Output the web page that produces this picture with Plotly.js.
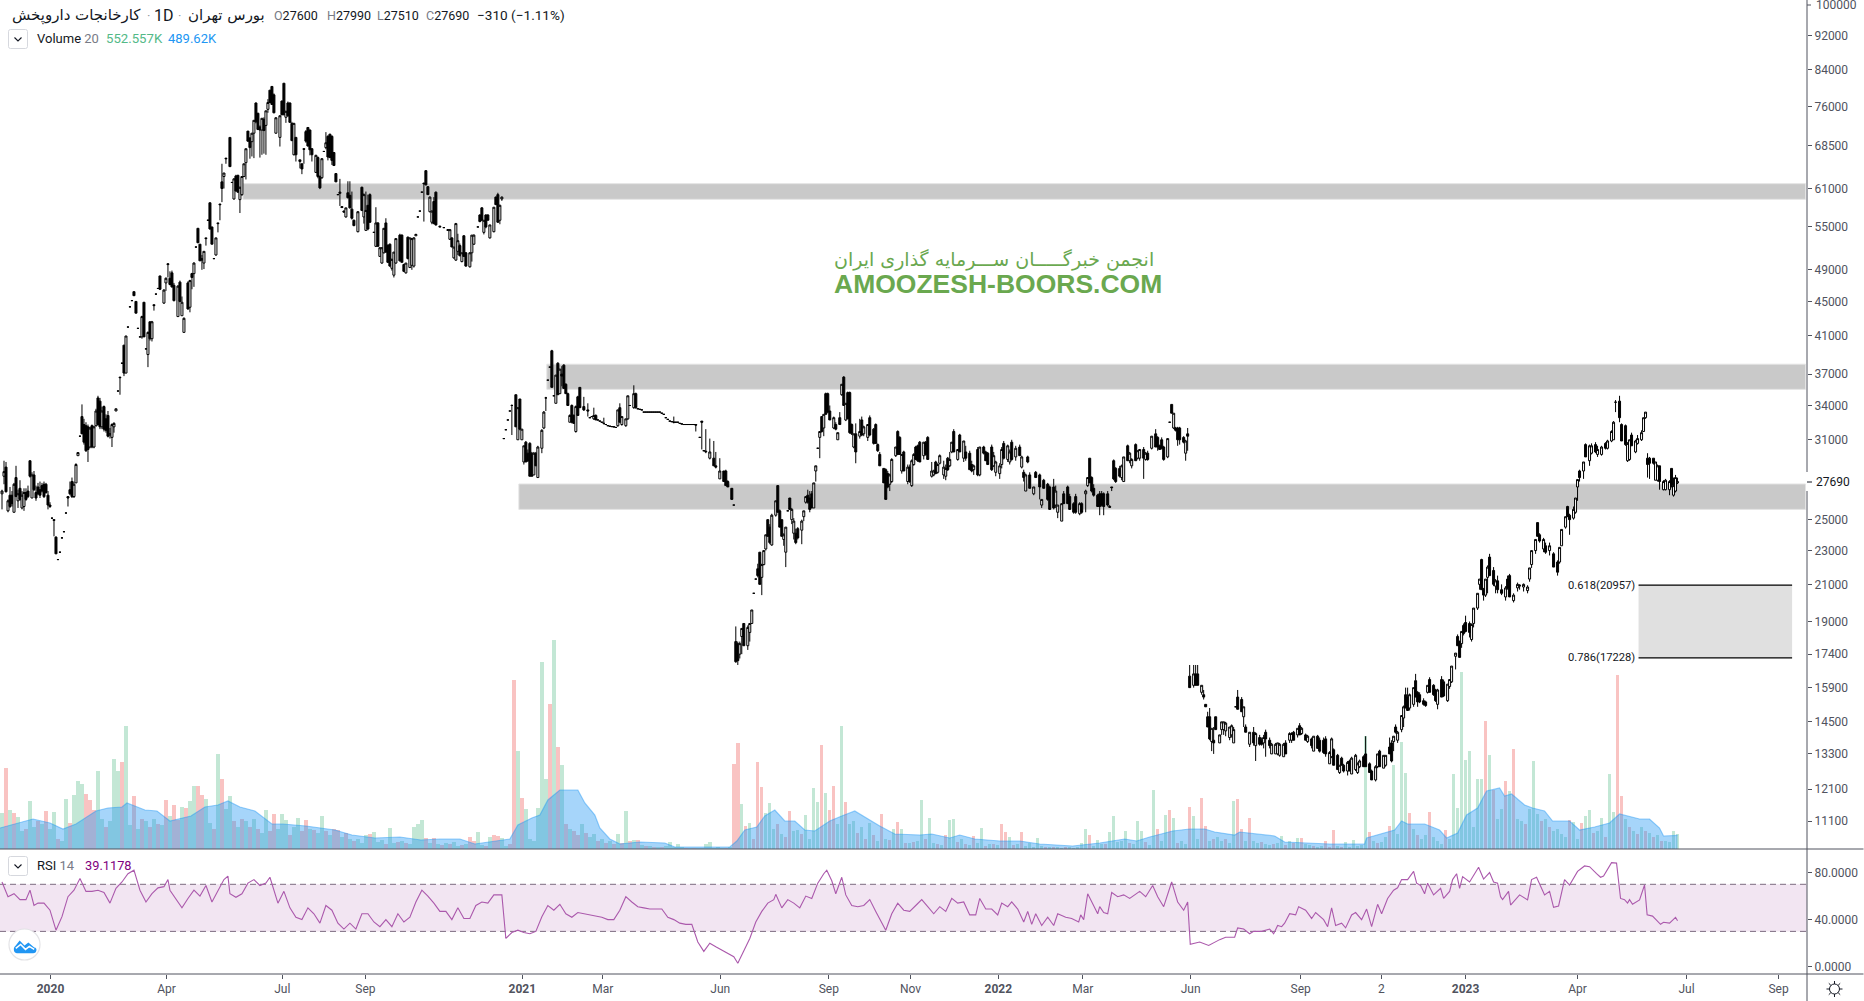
<!DOCTYPE html>
<html><head><meta charset="utf-8">
<script src="https://cdn.plot.ly/plotly-3.0.1.min.js"></script>
<style>html,body{margin:0;padding:0;background:#fff;overflow:hidden}#c{width:1864px;height:1001px}</style>
</head><body><div id="c"></div>
<script>
// candles by leg: [bar number, open, high, low, close]
const leg2020a=[[1,26800,27100,25700,27000],[2,28100,29300,27500,28450],[3,28800,29200,26900,26950],[4,25600,26400,25500,26300],[5,26700,27300,25800,25900],[6,26700,27000,25900,26100],[7,25500,27600,25500,27500],[8,28000,28900,26600,26600],[9,26300,27100,25800,26800],[10,27200,27800,26300,26400],
[11,25800,27000,25700,26700],[12,25900,27200,25600,26900],[13,26900,27200,26300,26400],[14,27000,27400,26500,26600],[15,29300,29300,28000,28100],[16,26500,28400,26500,28200],[17,28200,28500,27000,27100],[18,26900,27400,26300,26500],[19,27300,27600,26700,26800],[20,27100,27700,26500,26700],
[21,27400,27600,26900,27000],[22,27500,27700,26500,26600],[23,27500,27600,26800,26900],[24,26700,27000,25700,26000],[25,26000,26200,25800,25900],[26,25100,25100,25100,25100],[27,25000,25000,23900,24950],[28,23850,23900,22800,22800],[29,22450,22450,22450,22450],[30,22900,22900,22900,22900],
[31,23800,23800,23800,23800],[32,24200,24200,24200,24200],[33,25450,25450,25450,25450],[34,26600,26600,25900,26500],[35,27100,27700,26700,26800],[36,27700,28000,26500,26600],[37,26600,27700,26500,27500],[38,27600,29100,27600,29000],[39,29700,29950,29700,29950],[40,31300,31300,31300,31300],
[41,33000,34100,31500,31500],[42,32300,32800,30600,30800],[43,32200,32500,30000,30100],[44,32100,32300,29200,30200],[45,30400,32100,30300,32000],[46,32200,32300,30300,30400],[47,30400,32200,30300,32100],[48,32200,33700,32100,33500],[49,34700,34900,32200,32300],[50,34400,34700,31900,32100],
[51,32100,33900,31900,33500],[52,33900,34000,31700,31900],[53,32800,33200,31600,31800],[54,33100,33500,31200,31300],[55,31400,32000,31100,31500],[56,31200,32400,30400,32300],[57,32100,32500,31600,32400],[58,33500,33700,33500,33700],[59,35350,35350,35350,35350],[60,36700,36700,35000,36650],
[61,38100,38100,38100,38100],[62,40000,40000,36800,37100],[63,37100,41000,37100,41000],[64,42000,42000,42000,42000],[65,44350,44350,44350,44350],[66,45100,45100,45100,45100],[67,46200,46200,45700,45700],[68,45000,45000,43600,43600],[69,41850,41850,41850,41850],[70,40900,40900,40900,40900],
[71,40900,43300,40700,43200],[72,44900,44900,40900,40900],[73,39600,39600,39600,39600],[74,39000,41500,37700,41400],[75,42600,42600,40500,40700],[76,40700,42700,40400,42600],[77,44600,44600,43900,44500],[78,45900,45900,45900,45900],[79,46600,46600,46600,46600],[80,48200,48200,46400,46500],
[82,44800,46500,44700,46400],[83,47300,48000,46300,47900],[84,49800,49900,48000,49700],[85,47900,48800,47000,47100],[86,48600,48900,46700,46800],[87,47000,47300,45000,45100],[89,43200,47000,43200,46900],[90,47400,47600,44900,45000],[91,43300,45600,43300,44900],[92,41400,43100,41400,43000],
[94,47300,47500,44000,44100],[95,44300,47700,43700,47600],[96,48500,48600,46500,48000],[97,48500,50000,46800,49900],[98,52100,52100,52100,52100],[99,54800,54800,52700,52700],[100,52500,52500,50200,50200],[101,50500,51000,49000,50300],[102,49900,51500,49100,51500],[103,53400,53400,52300,53300],
[104,56000,56000,56000,56000],[105,58700,58700,54600,54700],[106,55000,55000,52500,52500],[107,50500,50500,50500,50500],[108,51000,53400,50900,53400],[109,55600,55600,54200,55500],[110,58500,58500,56000,58400],[111,62100,65200,58800,61000],[112,63000,63600,61000,63600],[113,66200,66200,65200,66100],
[115,70000,70000,64700,64700],[116,62000,62000,62000,62000],[117,59300,62700,59200,62600],[118,63100,63300,60500,60600],[119,63200,63300,60300,60400],[120,59200,61300,57100,61200],[121,60000,63000,59800,63000],[122,63000,65200,62900,65200],[123,65400,67900,62500,67900],[124,71200,71200,69200,69300],
[125,69900,70000,66100,68100],[126,69200,70800,66500,70800],[127,70800,73300,66200,73300],[128,76800,76900,72700,73000],[129,74700,74800,71400,71500],[130,72000,72300,66300,71400],[131,71400,73700,66800,73700],[132,73500,73900,67000,71300],[133,72300,75200,66800,75200],[134,75500,77600,74800,76900],
[135,79500,79500,76800,76900],[136,80300,80400,76400,76500],[137,78500,78800,74700,74800],[138,70800,73900,70700,73800],[140,70000,74300,68300,74200],[141,77200,77300,74300,74400],[142,81000,81000,74300,74400],[143,73900,75200,72800,75100],[144,76800,77100,74000,74200],[145,76800,76900,72800,72900],
[146,72700,73000,69300,69400],[147,66800,72800,66700,72700],[148,70000,70100,65600,66800],[150,65600,65900,64400,65900],[151,65200,65200,63400,64300],[152,67900,67900,65200,67800],[153,71100,71400,69000,69300],[154,71900,71900,68300,68400],[155,71400,71500,66700,67700],[156,67900,68000,65600,66800],
[158,63700,66800,63600,66700],[159,66300,66500,62700,63000],[160,63000,63200,60900,61100],[161,62800,66200,62600,66100],[162,67400,67400,67400,67400],[163,68100,71000,67800,69000],[164,70200,70400,65800,66400],[165,70600,70700,66200,66300],[166,70200,70400,65000,65800],[167,67200,67300,64800,64900],
[168,63500,63600,62100,62100],[169,60000,60000,60000,60000],[170,60200,62600,58200,60400],[171,58100,58100,57900,57950],[172,57400,57500,57200,57250],[173,56500,57900,56400,57900],[174,60300,62200,59400,59500],[175,59900,62200,57800,57900],[176,57700,60500,56100,56300],[177,56000,56100,55100,55200],
[179,54300,57400,54200,57300],[181,61200,61300,57400,57500],[182,56500,60200,55500,60000],[183,54500,60500,54400,57500],[184,58300,60000,54500,54700],[185,60000,60200,55600,55700],[187,54200,54200,54200,54200],[188,52200,58000,52100,55600],[189,55600,55700,52200,52200],[190,50800,52100,50800,52000],
[191,49900,52100,49800,52000],[192,51300,54800,51200,54800],[193,55600,56300,51300,51400],[194,52300,52500,49900,50000],[195,52500,52600,49400,49500],[196,49200,50500,48900,50400],[197,48300,51400,48000,51400],[198,49900,53300,49800,53300],[200,53800,54000,50100,50200],[201,53800,53900,50000,50000],
[202,49700,49800,48700,48800],[203,48600,49900,48500,49900],[204,53500,53600,50400,50500],[205,49300,53400,49300,53400],[206,49600,53400,49000,53300],[207,49500,53500,49300,53400],[208,53700,54000,53700,53900],[209,56500,56500,56500,56500],[210,57400,57400,57400,57400],[211,60400,60400,60400,60400],
[212,61900,61900,55800,61800],[213,64000,64100,61500,61600],[214,61300,61400,60000,60000],[215,57300,59700,57200,59600],[216,55700,57500,55400,57400],[217,58900,59600,55400,55500],[218,60400,60500,55200,55300],[220,55100,55200,55000,55000],[222,54900,54900,54900,54900],[224,54600,54700,54500,54500],
[225,53200,54700,53100,54600],[226,53400,53500,52100,52100],[227,50600,52100,50500,52100],[228,50300,55600,50200,55500],[229,51500,54000,51000,53000],[230,52300,52600,50800,50900],[231,50100,51300,50000,51300],[232,53700,53800,50800,50800],[233,51300,51400,49400,49500],[235,49400,51400,49300,51300],
[236,51300,53800,50100,53800],[237,52500,53900,52400,53800],[239,55000,55000,55000,55000],[240,56800,56900,55700,55800],[241,57900,58000,55900,56000],[242,54200,56000,53900,56000],[243,56800,56900,54800,55000],[244,56800,56900,56000,56000],[245,53400,55300,53300,55300],[247,54300,58000,54200,58000],
[248,59600,59700,58400,58400],[249,60000,60300,55600,55700],[250,56000,58400,55400,58300],[251,59300,59700,59000,59600]];
const leg2021a=[[252,31100,31100,31100,31100],[253,31850,31850,31850,31850],[254,32700,32700,32700,32700],[255,33500,33500,33500,33500],[256,34000,34100,31400,34000],[258,35000,35000,32100,32100],[259,31000,33800,31000,33800],[260,34600,34600,31800,31900],[261,31000,31900,31000,31900],[262,29200,30500,29000,30500],
[263,30800,30900,29200,29200],[264,29900,30200,29200,29300],[265,30700,30800,28100,28100],[266,29900,30000,28100,28100],[267,28200,30000,28200,29900],[268,29900,30000,28900,28900],[269,28000,30500,28000,30400],[271,30300,31900,29900,31800],[272,32000,33500,31900,33400],[273,34700,34800,33500,34700],
[274,36400,36400,36400,36400],[275,37700,37700,37700,37700],[276,39400,39500,35700,35700],[277,34900,34900,34900,34900],[278,34200,36900,34200,36900],[279,38100,38200,35000,35000],[280,35100,37500,35100,37500],[281,37000,37800,35800,36800],[282,37900,38000,35600,35600],[283,36000,36100,35100,35100],
[284,35100,35200,34000,34000],[285,32500,33200,32500,33100],[286,34000,34100,32400,32500],[287,33100,33200,32400,32400],[288,31700,34000,31600,33900],[289,34800,34900,33100,33100],[290,35700,35700,33800,33800],[292,33900,34800,33500,33600],[294,33600,34200,33000,33500],[295,32900,32900,32900,32900],
[296,33000,33000,33000,33000],[297,32800,33800,32700,33100],[298,33100,33200,32700,32700],[299,32700,32700,32700,32700],[300,32600,32600,32600,32600],[301,32500,32500,32500,32500],[302,32400,32900,32300,32400],[303,32300,32300,32300,32300],[304,32200,32200,32200,32200],[305,32150,32150,32150,32150],[306,32120,32120,32120,32120],[307,32100,32100,32100,32100],[308,32050,32050,32050,32050],[309,32200,33600,32100,33600],
[310,33800,34200,32500,32500],[311,32300,33000,32200,33000],[313,32200,32800,32100,32800],[314,32800,34900,32700,34900],[315,34000,34000,34000,34000],[317,33800,35900,33700,35100],[318,35100,35200,33700,33800],[319,33700,33700,33700,33700],[320,33650,33650,33650,33650],[321,33600,33600,33600,33600],[322,33400,33400,33400,33400],[323,33400,33400,33400,33400],
[324,33400,33400,33400,33400],[325,33400,33400,33400,33400],[326,33400,33400,33400,33400],[327,33400,33400,33400,33400],[328,33400,33400,33400,33400],[329,33400,33400,33400,33400],[330,33400,33400,33400,33400],[331,33300,33300,33300,33300],[332,33200,33200,33200,33200],[333,32900,32900,32900,32900],[334,32750,32750,32750,32750],[335,32600,32600,32600,32600],[336,32550,32550,32550,32550],[337,32500,33000,32400,32500],[338,32500,32500,32500,32500],[339,32500,32500,32500,32500],[340,32400,32400,32400,32400],
[341,32350,32350,32350,32350],[342,32300,32300,32300,32300],[343,32300,32300,32300,32300],[344,32300,32300,32300,32300],[345,32300,32300,32300,32300],[346,32300,32300,32300,32300],[347,32300,32300,32300,32300],[348,32300,32300,31700,32250],[350,31200,31200,31200,31200],[351,32600,32600,30200,32500],[352,30100,30100,30100,30100],[353,30000,31900,29900,30050],[355,29500,31100,29400,30000],
[357,29500,30900,28900,28900],[358,28900,30000,28700,28800],[360,27900,29500,27900,28500],[362,28500,28500,27700,27700],[363,28500,28600,27400,27400],[364,27700,27800,27300,27300],[366,27200,27200,26400,26400],[367,26000,26000,26000,26000]];
const leg2021b=[[368,18000,18750,17000,17050],[369,17900,18000,16900,17100],[370,17400,18000,17200,17900],[371,18250,18650,17400,18650],[372,18900,18900,17800,17800],[374,17800,18800,17600,18700],[375,18450,18900,18000,18900],[376,18900,19600,18900,19600],[377,20500,20500,20500,20500],[378,21300,21300,21300,21300],
[379,21900,22200,21400,21500],[380,22900,22900,21000,21000],[381,21400,22200,20400,22150],[382,22150,23000,22100,23000],[383,23100,24000,23000,24000],[384,25000,25000,23900,23900],[385,24500,24700,23400,23500],[386,23350,25400,23300,25300],[388,25300,26300,25200,26300],[389,27400,27400,25500,25500],
[390,25600,25700,24500,24500],[391,25000,25000,23900,23900],[392,23700,24100,23300,24000],[393,22900,24500,22000,24500],[394,25600,25600,25600,25600],[395,26500,26500,25700,25700],[396,25000,25800,24700,25700],[397,24100,25100,23700,24900],[398,24100,24400,23400,23500],[399,24400,24500,23700,23800],
[401,24300,25000,23400,24900],[402,25200,25600,24900,25600],[403,26200,26600,26100,26600],[404,26700,27100,26100,26200],[405,26500,27000,25500,25700],[406,26800,27000,25800,25800],[407,25800,27600,25800,27600],[408,28500,28900,27700,28900],[409,30300,30300,30300,30300],[410,31200,31700,29500,31700],
[411,33000,33000,31600,31700],[412,32000,33200,31300,33200],[413,35100,35200,33200,33200],[414,35100,35200,33300,33400],[415,33500,34000,32700,32700],[417,32000,33000,31900,32900],[418,32300,32500,31800,31900],[419,31000,31600,31000,31600],[420,32900,33400,32300,32300],[421,35000,36000,34900,36000],
[422,36700,36800,34000,34000],[423,32700,34200,32600,34200],[424,35200,35300,32800,32800],[425,35200,35300,31500,31600],[426,32300,32400,31400,31500],[427,30400,31500,30300,31500],[428,31500,32400,29100,30000],[430,31300,32800,31100,31700],[431,32700,33000,31300,31400],[432,31500,32200,31300,32100],
[434,31200,32300,30900,32300],[435,32900,33100,31300,31400],[437,31900,32000,30600,30700],[438,32300,32400,30700,30700],[439,30600,30700,30000,30100],[440,29800,30000,28900,28900],[442,28700,28700,27600,27600],[443,28600,28700,26400,26400],[444,28300,28500,27200,27300],[445,27500,28300,27000,28200],
[446,27700,29500,27600,29400],[448,29700,30400,29600,30400],[449,31700,31800,29800,29800],[450,31200,31300,29800,29800],[451,28500,29800,28300,29800],[452,30000,30100,28500,28500],[454,27700,29000,27500,28800],[455,28800,29000,27600,27700],[456,27400,29400,27300,29300],[457,29000,29900,28900,29800],
[458,30400,30500,29400,29400],[459,30500,30600,29200,29300],[460,30800,30900,29200,29200],[462,29700,30800,29400,30800],[463,30800,30900,29700,29800],[464,31200,31300,29400,29400],[466,28100,29200,28000,28500],[467,28200,28600,28100,28500],[468,29200,29300,28300,28300],[469,28400,29100,28300,29000],
[470,29100,29800,29000,29700],[472,28200,29300,27900,28800],[473,28100,29000,27800,28700],[474,29500,29600,28500,28600],[475,28900,30000,28800,29400],[476,30000,30800,29900,30800],[477,31700,31900,30000,30000],[479,29400,30200,29300,30200],[480,31400,31500,30000,30000],[482,29500,30900,29200,30900],
[483,30000,30500,29300,29500],[485,29900,30100,28600,28600],[486,29000,29300,28400,28500],[487,28600,29000,28200,28900],[489,30200,30400,28100,28200],[490,28200,30400,28100,30400],[492,30400,30500,29800,29900],[493,30000,30100,29300,29300],[494,29900,30000,29000,29000],[496,30400,30600,28500,28600],
[497,28900,30000,28800,29700],[498,28400,29300,28100,29200],[500,28300,29100,27900,28900]];
const leg2022a=[[501,29000,30400,28700,30200],[502,30700,30900,29400,29500],[504,29400,30600,29200,30500],[505,29200,30200,29000,30000],[506,30800,31000,29300,29400],[508,29600,30500,29300,30300],[510,30400,30600,29700,29700],[511,28800,29700,28700,29600],[512,28400,28600,27700,28000],[513,27000,28300,27000,28200],
[514,29600,29700,29100,29200],[515,28200,28400,27200,27200],[517,26800,27300,26700,27300],[518,28400,28500,28000,28000],[520,28200,28300,26400,27300],[521,26000,26400,25800,26400],[522,27800,27900,27200,27200],[524,27500,27600,26300,26400],[525,27300,27400,25700,25700],[527,27300,27900,25700,25800],
[528,26000,27400,25800,27000],[529,25500,26000,25100,26000],[531,24900,26100,24900,26100],[532,26800,27000,26100,26100],[534,27300,27400,26100,26100],[535,26600,26800,25700,25700],[537,26100,26200,25400,25500],[538,26600,26800,25400,25500],[540,25400,26200,25300,26100],[541,26100,26200,25400,25500],
[543,26800,27100,25500,27000],[544,27400,28000,27300,28000],[545,29500,29500,27600,27600],[546,28000,28100,26900,27000],[547,27200,27500,26600,26700],[549,26700,26800,25900,25900],[550,26800,27000,25300,25900],[551,26800,27000,25900,26000],[552,26800,26900,25300,25900],[554,26800,27000,25900,26000],
[555,25900,26000,25800,25850],[556,27300,27300,27000,27250],[557,29300,29400,27800,27900],[558,28700,28800,27600,27700],[560,28700,28900,28000,28100],[561,28000,29000,27800,28900],[562,27700,29600,27700,29600],[564,30500,30600,29300,29300],[565,29300,30000,29100,29900],[566,28900,29500,28700,29400],
[568,30600,30700,29300,29300],[569,29500,30100,29400,30100],[570,29500,30200,29300,30200],[572,30200,30400,27900,29500],[573,29400,30000,29300,29900],[574,29900,30100,29300,29400],[576,30300,31300,30200,31300],[578,31500,31900,30400,30400],[579,31200,31300,30100,30400],[580,30500,30600,30200,30200],
[581,31000,31200,30200,30300],[582,30400,30500,29300,29400],[584,29600,31100,29500,31100],[585,32500,32500,32500,32500],[586,34100,34100,33300,33300],[587,32000,33300,31900,33300],[588,32000,32100,31700,31800],[589,32000,32100,30500,31000],[590,32000,32100,30600,31000],[592,31200,31300,30700,30800],
[593,29900,31000,29300,30900],[594,31500,32000,30100,31300]];
const leg2022b=[[595,16400,16900,15900,15900],[597,16000,16900,15900,16500],[598,16500,16900,16000,16000],[599,16500,16900,16000,16000],[601,15700,16000,15600,16000],[602,15600,15800,15400,15500],[603,15200,15200,15100,15100],[604,14700,14900,14300,14300],[605,14700,15050,13800,13850],[606,13750,14250,13400,14250],
[607,13800,14300,13300,13700],[608,14700,14700,14200,14200],[610,13700,14000,13700,14000],[611,14200,14500,14000,14500],[612,14200,14500,14000,14500],[613,14150,14500,13950,14450],[615,13900,14300,13800,14300],[616,14000,14400,13900,14350],[617,13700,14300,13700,14200],[618,15100,15100,15100,15100],
[619,15500,15800,15000,15000],[621,15400,15500,14900,14900],[622,14700,15100,14300,15100],[623,14300,14400,14100,14100],[625,13650,14100,13550,14100],[627,14100,14300,13600,13700],[628,13600,14100,13050,14050],[630,13900,14000,13600,13650],[631,13800,13900,13600,13650],[632,13700,14000,13500,13900],
[633,14100,14200,13200,13850],[635,13800,13900,13500,13600],[636,13300,13700,13300,13650],[638,13300,13700,13300,13650],[639,13300,13700,13250,13700],[640,13250,13700,13200,13650],[642,13200,13700,13200,13650],[643,13700,13800,13300,13300],[645,13800,14100,13700,14050],[646,13800,14100,13700,14050],
[647,14100,14150,13800,13800],[649,14000,14250,13900,14250],[650,14350,14450,14000,14000],[651,14050,14300,14000,14250],[653,14000,14050,13800,13800],[654,13750,14000,13700,13950],[656,13850,13900,13500,13600],[657,13400,13950,13400,13950],[659,13950,14000,13500,13500],[660,13800,13900,13350,13400],
[662,13800,13900,13300,13350],[663,13850,13950,13200,13300],[665,12950,13400,12950,13350],[666,13200,13900,13150,13850],[667,13450,13500,12900,12900],[669,13250,13300,12750,12750],[670,12650,12900,12600,12900],[671,13150,13200,12900,12900],[672,12900,12950,12650,12700],[674,12700,13050,12550,13000],
[675,13050,13100,12700,12700],[676,12600,13200,12600,13150],[678,12750,13300,12700,13250],[679,12650,13000,12600,12950],[680,12850,13100,12800,13050],[682,13200,13250,12850,12850],[683,13300,13950,12850,12850],[685,12950,13000,12650,12650],[686,12700,12750,12400,12400],[688,12400,12900,12350,12850],
[689,12850,13300,12800,13300],[690,13400,13450,12850,12850],[692,12800,13250,12800,13250],[693,12900,13250,12850,13250]];
const leg2023=[[695,13550,13900,13300,13300],[696,13700,13800,13000,13050],[697,13750,13950,13400,13950],[698,14300,14400,14050,14100],[699,13800,14150,13700,14100],[701,14200,14750,14100,14750],[702,14650,15150,14300,15100],[703,15600,15900,15050,15050],[704,15500,15900,14950,14950],[705,15050,15650,14950,15600],
[707,15200,15900,15100,15900],[708,16200,16500,15500,15500],[709,15700,15750,15100,15300],[710,15600,15700,15250,15300],[712,15350,15450,15150,15200],[713,15300,15350,15100,15150],[714,15700,16000,15650,16000],[715,16250,16350,15700,15700],[717,16000,16050,15550,15600],[718,15800,15850,15300,15350],
[719,15200,15850,15000,15800],[721,16250,16400,15500,15500],[722,16150,16250,15500,15550],[724,15350,16050,15300,16050],[725,15950,16250,15850,16250],[726,16150,16850,16100,16850],[728,17300,17450,16700,17450],[729,18250,18350,17800,17800],[730,18000,18050,17250,17250],[731,17900,18500,17700,18500],
[732,18800,18900,18300,18400],[733,18950,19300,18450,18500],[735,18900,19000,18200,18450],[736,18100,18900,18000,18850],[737,18900,19700,18700,19700],[739,19700,20500,19600,20500],[740,21000,21300,20700,21300],[741,22450,22500,20700,20700],[742,20700,20800,20100,20400],[743,20400,21300,20300,21300],
[744,21400,22100,20500,22000],[745,22600,22800,21500,21500],[747,21800,22000,20900,21000],[748,20900,21300,20500,21200],[749,21200,21500,20500,20700],[751,20700,21000,20400,20500],[753,20300,20900,20100,20800],[754,21300,21500,20700,20800],[755,21500,21600,20300,20300],[757,20100,20500,20000,20400],
[759,20800,21100,20600,21000],[760,20900,21000,20700,20950],[762,20850,21050,20600,21000],[764,20650,20950,20500,20850],[765,21300,21950,21150,21950],[766,22150,23000,21950,23000],[768,23000,23700,22800,23700],[769,24800,24800,23900,23900],[770,24000,24100,23500,23600],[772,23100,23800,22900,23700],
[773,23300,23500,22800,22900],[775,23000,23500,22700,23300],[777,22800,22900,22000,22000],[779,22300,22400,21500,21700],[780,22300,23200,22200,23200],[781,23300,24350,23300,24350],[783,24500,25200,24400,25200],[784,25900,25950,25200,25200],[785,25300,25400,24000,25000],[787,25100,25900,25000,25700],
[788,25500,26500,25400,26500],[789,27300,27850,26300,27850],[790,28500,28600,27700,28000],[792,28500,29200,27900,29200],[793,30600,30700,29600,29600],[795,29300,30600,28900,30500],[796,29900,30700,29800,30500],[798,30600,30800,29900,30000],[799,29800,30500,29600,30200],[801,29800,30500,29700,30400],
[803,30700,30800,30200,30300],[804,30300,31000,30200,30900],[806,30900,31800,30800,31700],[807,31000,32600,31000,32500],[808,34300,34500,33400,34300],[810,34400,34900,32500,32900],[811,32300,32400,30900,30900],[813,32200,32300,30500,30600],[814,29300,30800,29200,30700],[815,29400,31000,29300,31000],
[816,31400,31600,30500,30500],[818,30000,31000,29900,30900],[819,30700,31400,30600,31100],[821,31000,31800,30900,31600],[822,31700,32900,31700,32900],[823,32900,33400,32800,33400],[824,29500,29900,28000,29000],[825,29500,29600,27900,29100],[827,29500,29500,29000,29100],[828,27800,29200,27800,29200],
[829,27800,29000,27700,28900],[830,28900,28900,27100,27700],[832,27100,27800,27050,27700],[833,27100,27900,27050,27800],[835,27100,27800,26700,27700],[836,28700,28700,27300,27300],[837,26700,28000,26600,27400],[838,27000,28200,26900,28000],[839,27600,27990,27510,27690]];

// volume in thousands, one value per two bars; negative = down day
const volumeSigned=[1300,-2920,1400,-1300,1150,650,-720,1730,790,-1000,
900,-1370,720,1330,-360,290,1800,-940,1940,2450,
2340,-1980,-1760,-1400,2810,1080,-790,1010,3240,2810,
-3130,4430,860,-1910,720,-1080,1010,-790,1080,-900,
860,-1760,1190,-1580,-1040,1510,-1480,1730,2270,-2270,
-1940,1800,940,-720,3420,-2520,1440,1910,-1010,790,
-1080,1010,-790,1080,-720,580,1400,-650,-1260,720,
1260,1040,-500,790,1120,-650,-1040,720,-680,580,
1190,-650,500,-720,-680,430,-580,360,-290,360,
220,500,-540,610,250,320,-180,760,220,-250,
290,-220,180,790,900,1040,-400,220,-400,180,
-140,220,-180,250,110,-140,180,-430,-290,610,
140,-110,430,-500,-470,400,110,-180,-6080,3530,
-1840,1440,360,290,1480,6730,2520,-5220,7520,-3670,
3020,-900,720,-650,-500,900,-580,430,540,-290,
360,-220,290,-180,540,-220,1370,-290,320,-320,
140,-110,110,-70,70,-70,110,250,70,180,
70,-40,40,-40,40,40,180,250,40,70,
40,-40,70,-3060,-3820,1620,-830,940,-360,-3130,
-2230,1300,1660,720,-900,540,-430,-1370,650,680,
-540,1220,360,2200,1690,-3740,2020,-1400,-2270,900,
4430,-1690,900,1010,-580,790,-360,940,-500,290,
-1260,360,-320,720,-970,720,-220,220,-250,290,
1760,-360,1120,220,-180,140,-500,1040,1080,-250,
360,-180,140,-470,220,760,-110,180,-180,140,
-900,-610,430,-140,180,-610,110,220,70,400,
110,-70,70,-70,70,40,-70,70,40,70,
220,720,-500,110,320,180,-180,610,1190,250,
290,650,-220,180,1010,650,-250,140,2120,-720,
290,1220,-1400,1120,-220,290,180,-1510,1190,360,
-1840,-830,290,-360,430,290,-360,220,1730,-1800,
-720,290,-1120,290,220,-250,180,140,-180,220,
470,-140,290,-220,400,-400,180,140,-110,70,
110,-290,-70,-680,110,-70,250,70,320,110,
140,4070,-610,290,-220,250,430,-830,3020,540,
3850,2740,-1300,720,-500,360,500,-1330,430,290,
180,-680,360,2700,1480,6370,3200,3530,790,2520,
2520,-4610,3380,-2120,1080,1440,-2450,2090,-3600,1080,
1010,-900,1440,3170,1260,-1010,1080,-790,650,720,
540,430,-1040,970,360,-940,1190,1400,-580,650,
1120,-430,2700,1330,-6260,-1910,1080,-790,650,-540,
790,-650,580,-430,500,-290,290,250,650,553];

// 20-bar volume average: [bar, thousands]
const volumeAverage=[[0,756],[10,936],[16.5,1080],[25,936],[31.5,720],[38,900],[48,1368],[54,1476],[61,1512],[63.5,1656],[72.5,1404],[78.5,1368],[85,1008],[95.5,1188],[102.5,1512],[109,1584],[114,1728],[120,1512],[127.5,1368],[136,900],[141.5,900],[153,828],[167.5,684],[176,504],[187.5,396],[200,432],[210.5,324],[220,360],[230,360],[237.5,180],[247.5,288],[250,324],[255,360],[259,864],[266,1116],[270,1224],[274,1764],[280,2124],[289,2124],[292.5,1656],[297.5,1224],[300,756],[305,360],[310,180],[320,252],[332.5,216],[337.5,72],[350,72],[365,72],[368.5,288],[372.5,684],[378.5,792],[382.5,1188],[387.5,1404],[392.5,1008],[397.5,1008],[402.5,684],[407.5,648],[415,1008],[421,1188],[427.5,1368],[435,1044],[440,828],[447.5,540],[460,504],[466,540],[475,396],[480,504],[487.5,360],[500,288],[510,288],[520,180],[536.5,108],[550,216],[562.5,360],[568.5,288],[575,432],[586.5,648],[595,720],[602.5,720],[607.5,612],[617.5,504],[620,612],[637.5,468],[642.5,252],[665,180],[682.5,180],[683.5,396],[697.5,684],[701,1008],[704,900],[712.5,900],[720,684],[723.5,396],[729,576],[733.5,1224],[739,1476],[743.5,2088],[750,2196],[752.5,1908],[756,1980],[762.5,1584],[766.5,1476],[772.5,1368],[776.5,1008],[785,1008],[790,684],[797.5,792],[805,936],[810,1260],[820,1080],[825,1080],[830,756],[832,468],[839,490]];

// RSI by leg: [bar, value]
const rsi2020=[[1,72],[4,59.5],[7,62],[10,57],[13,57],[15,65],[17,52],[19,54],[22,54],[25,48],[28,31],[31,42.5],[34,59.5],[37,65],[40,75],[43,64],[46,64],[49,65],[52,63],[55,54],[58,66.6],[61,72],[64,79],[67,82],[70,65],[73,55],[76,62],[79,67],[82,68],[84,74],[85,65],[88,57],[91,50],[94,58],[97,65],[100,60],[103,69],[106,55],[109,65],[112,74],[114,77],[115,62],[118,59],[121,62],[124,71],[127,74],[130,69],[133,71],[135,76],[136,71],[139,54],[142,64],[145,50],[148,42],[151,40],[154,50],[157,45],[160,37],[163,52],[166,48],[169,37],[172,32],[175,37],[178,32],[181,45],[184,45],[187,38],[190,34],[193,40],[196,34],[199,45],[202,38],[205,42],[208,55],[211,65],[214,60],[217,54],[220,47],[223,47],[226,40],[229,50],[232,41],[235,41],[238,52],[241,55],[244,54],[247,61],[250,61],[251,61],[253,24]];
const rsi2021=[[256,29],[259,31],[262,29],[265,28],[268,30],[271,42.5],[274,52],[277,48],[280,53],[283,45],[286,42],[289,46],[292,45],[295,44],[298,43],[301,42],[304,40],[307,40],[310,48],[313,59.5],[316,55],[319,51],[322,50],[325,49],[328,49],[331,49],[334,42],[337,40],[340,37],[343,36],[346,36],[349,21],[352,13],[355,20],[358,17],[361,14],[364,11],[367,8.5],[369,3],[372,14],[375,24],[378,38],[381,47],[384,54],[387,57],[388,61.5],[391,50],[394,57],[397,54],[400,50],[403,60],[406,58],[409,71],[412,79],[413.5,82],[416,73],[418,62],[421,76],[423,61],[426,52],[429,51],[432,52],[435,57],[438,47],[441,38],[443,31],[446,45],[449,54],[452,48],[455,47],[458,52],[461,57],[464,51],[467,45],[470,51],[473,47],[476,58],[479,54],[482,55],[485,44],[488,44],[490,58],[493,49],[496,49],[499,44]];
const rsi2022=[[501,54],[504,51],[506,55],[509,49],[512,38],[514,47],[516,36],[518,45],[521,35],[524,42],[527,35],[529,45],[533,42],[536,41],[539.5,38],[540.5,44],[542,40],[544,62],[547,52],[549,45],[550,51],[552,46],[554,45],[556,63],[559,59.5],[562,61],[565,58],[570,64],[573,59.5],[576.5,69],[579,59.5],[582,51],[586,72],[589,55],[592,48],[594,55],[595.3,19],[600,21],[604.5,18],[610,23],[613,25],[617.5,25],[619,33],[622,32],[625,28],[627,30],[631,30],[635,32],[637,28],[639,35],[641,34],[642.5,37],[645,45],[648,44],[649.5,51],[653,48],[656,41],[658,46],[662,40],[664,34],[666,50],[668,35],[671,37],[673,33],[676,44],[678,46],[681,40],[683.5,49],[686,34],[689,53],[691,45],[694,58],[697,65],[699,67]];
const rsi2023=[[701,74],[704,74],[707,81],[708.5,71],[710.5,69],[712.5,62],[714,71],[717,61],[720.5,66.6],[722,58],[725,64],[726.5,74],[728.5,79],[730,66.6],[731.5,76.5],[735,72],[739.5,84.5],[742,74.5],[745,80],[747,72],[749,71],[750.5,59.5],[751.5,57],[754.5,64],[755.5,52.4],[760,61],[764,56.7],[766,74],[768.5,76],[772.5,61],[775,64],[777,50.4],[779.5,51.6],[782.5,74],[785,69.4],[789,81],[792.5,85.6],[795,85],[798.5,79],[800.5,76],[802,77],[806,88.4],[808.5,88],[809.8,71],[810.5,58],[812.5,57],[814,54],[815,57],[816.5,53],[820,56.7],[822.5,69.4],[823.8,44],[826.5,43],[830.5,36],[832,37.7],[835,37],[838,42],[839,39.1]];

const priceTicks=[92000,84000,76000,68500,61000,55000,49000,45000,41000,37000,34000,31000,25000,23000,21000,19000,17400,15900,14500,13300,12100,11100];
const topPriceTick=100000;
const rsiTicks=[0,40,80];
const timeTickBars=[25.25,83.25,141.2,182.75,261.2,301.5,360.25,414.5,455.4,499.3,541.5,595.5,650.5,690.9,733,789,843.5,889.5];
const timeTickLabels=['<b>2020</b>','Apr','Jul','Sep','<b>2021</b>','Mar','Jun','Sep','Nov','<b>2022</b>','Mar','Jun','Sep','2','<b>2023</b>','Apr','Jul','Sep'];

const zoneStartBars=[121.5,273.5,259.5];
const zoneTops=[61800,38000,27520];
const zoneBottoms=[59250,35510,25700];
const fibLevels=[20957,17228];
const fibLabels=['0.618(20957)','0.786(17228)'];
const lastPrice=27690;

// ---- page geometry
const W=1864,H=1001,PW=1807.5,PH=974,PANE=849,END_BAR=PW/2;
const px=x=>x/PW, py=y=>(PH-y)/PH, split=(PH-PANE)/PH;
const GREY='#50535e',DARK='#131722',FONT='Roboto, Arial, sans-serif',FA='"DejaVu Sans", sans-serif';

const rows=[...leg2020a,...leg2021a,...leg2021b,...leg2022a,...leg2022b,...leg2023];
const rsiRows=[...rsi2020,...rsi2021,...rsi2022,...rsi2023];
const candle={type:'candlestick',xaxis:'x',yaxis:'y2',x:rows.map(r=>r[0]),open:rows.map(r=>r[1]),high:rows.map(r=>r[2]),low:rows.map(r=>r[3]),close:rows.map(r=>r[4]),
 whiskerwidth:0,hoverinfo:'skip',showlegend:false,
 increasing:{line:{color:'#000',width:1},fillcolor:'#fff'},decreasing:{line:{color:'#000',width:1},fillcolor:'#000'}};
const vol={type:'bar',xaxis:'x',yaxis:'y',x:volumeSigned.map((v,i)=>1+2*i),y:volumeSigned.map(Math.abs),width:1.7,
 marker:{color:volumeSigned.map(v=>v>=0?'rgba(83,185,135,0.35)':'rgba(239,83,80,0.35)'),line:{width:0}},hoverinfo:'skip',showlegend:false};
const ma={type:'scatter',mode:'lines',xaxis:'x',yaxis:'y',x:volumeAverage.map(r=>r[0]),y:volumeAverage.map(r=>r[1]),fill:'tozeroy',fillcolor:'rgba(33,150,243,0.4)',line:{color:'rgba(33,150,243,0.45)',width:1.2},hoverinfo:'skip',showlegend:false};
const rsi={type:'scatter',mode:'lines',xaxis:'x',yaxis:'y3',x:rsiRows.map(r=>r[0]),y:rsiRows.map(r=>r[1]),line:{color:'#ab59ac',width:1.1},hoverinfo:'skip',showlegend:false};

const line=(x0,y0,x1,y1,c=GREY,w=1)=>({type:'line',xref:'paper',yref:'paper',x0:px(x0),x1:px(x1),y0:py(y0),y1:py(y1),line:{color:c,width:w},layer:'above'});
const shapes=[];
zoneStartBars.forEach((b,i)=>shapes.push({type:'rect',xref:'x',yref:'y2',x0:b,x1:903,y0:zoneBottoms[i],y1:zoneTops[i],fillcolor:'#c9c9c9',line:{color:'#e4e4e4',width:1},layer:'below'}));
shapes.push({type:'rect',xref:'x',yref:'y2',x0:819.5,x1:896.3,y0:fibLevels[1],y1:fibLevels[0],fillcolor:'#e0e0e0',line:{width:0},layer:'below'});
fibLevels.forEach(l=>shapes.push({type:'line',xref:'x',yref:'y2',x0:819.5,x1:896.3,y0:l,y1:l,line:{color:'#000',width:1.2},layer:'above'}));
shapes.push({type:'rect',xref:'paper',yref:'y3',x0:0,x1:1,y0:30,y1:70,fillcolor:'rgba(128,0,128,0.1)',line:{width:0},layer:'below'});
[30,70].forEach(l=>shapes.push({type:'line',xref:'paper',yref:'y3',x0:0,x1:1,y0:l,y1:l,line:{color:'#7c6c80',width:1,dash:'6px,4px'},layer:'below'}));
shapes.push(line(0,PANE,W,PANE),line(0,PH,W,PH),line(PW,0,PW,472),line(PW,491,PW,H),line(PW,482,PW+5,482,DARK),line(PW,5,PW+4,5));

const T=(x,y,text,o={})=>({xref:'paper',yref:'paper',x:px(x),y:py(y),text,showarrow:false,xanchor:o.a||'left',yanchor:'middle',align:o.a||'left',borderpad:0,
 font:{family:o.f||FONT,size:o.s||12.500,color:o.c||DARK}});
const annotations=[
 T(11,15,'کارخانجات داروپخش',{f:FA,s:15}),T(153,15,'1D',{s:16}),T(187,15,'بورس تهران',{f:FA,s:15}),
 T(146,15,'·',{s:13,c:'#9598a1'}),T(177,15,'·',{s:13,c:'#9598a1'}),
 T(273,15,'<span style="color:#787b86">O</span>27600'),T(326,15,'<span style="color:#787b86">H</span>27990'),T(376,15,'<span style="color:#787b86">L</span>27510'),T(425,15,'<span style="color:#787b86">C</span>27690'),T(476,15,'−310 (−1.11%)',{s:13.6}),
 T(36,39,'Volume <span style="color:#787b86">20</span>',{s:13}),T(105,39,'552.557K',{c:'#53b987',s:13.2}),T(167,39,'489.62K',{c:'#2196f3',s:13}),
 T(36,865,'RSI <span style="color:#787b86">14</span>',{s:13}),T(84,865,'39.1178',{c:'#800080',s:12.8}),
 T(994.5,260,'انجمن خبرگـــــان ســـرمایه گذاری ایران',{a:'center',f:FA,s:19,c:'#6aa84f'}),
 T(998,284,'<b>AMOOZESH-BOORS.COM</b>',{a:'center',f:'"Liberation Sans", Arial, sans-serif',s:26.5,c:'#6aa84f'}),
 T(1816,5,String(topPriceTick),{s:12,c:GREY}),
 T(1816,482,String(lastPrice),{s:12}),
 ...fibLevels.map((l,i)=>({xref:'paper',yref:'y2',x:px(1636),y:Math.log10(l),text:fibLabels[i],showarrow:false,xanchor:'right',yanchor:'middle',borderpad:0,font:{family:FONT,size:11.2,color:DARK}}))
];

const svg=s=>'data:image/svg+xml,'+encodeURIComponent(s);
const chev=svg('<svg xmlns="http://www.w3.org/2000/svg" width="20" height="20"><rect x=".5" y=".5" width="19" height="19" rx="2" fill="#fff" stroke="#d6d8de"/><path d="M6.5 8.5l3.5 3.5 3.5-3.5" fill="none" stroke="#131722" stroke-width="1.1"/></svg>');
const logo=svg('<svg xmlns="http://www.w3.org/2000/svg" width="34" height="34"><circle cx="17" cy="17" r="16" fill="#fff" stroke="#e3e3e6" stroke-width="1.2"/><path d="M6 22c0-2 1-3 2-4l4-5 5 5 4-3 6 5c2 0 3 2 2 4-.5 1.500-1.500 2-3 2H9c-2 0-3-2-3-4z" fill="#2196f3"/><path d="M8 21l5-4 5 5 4-3 5 3" fill="none" stroke="#fff" stroke-width="1.6"/></svg>');
const gear=svg('<svg xmlns="http://www.w3.org/2000/svg" width="18" height="18"><circle cx="9" cy="9" r="5" fill="none" stroke="#131722"/><path d="M9 1v3M9 14v3M1 9h3M14 9h3M3.300 3.300l2.100 2.100M12.600 12.600l2.100 2.100M3.300 14.700l2.100-2.100M12.600 5.400l2.100-2.100" stroke="#131722"/></svg>');
const img=(source,x,y,w,h)=>({source,xref:'paper',yref:'paper',x:px(x),y:py(y),sizex:w/PW,sizey:h/PH,xanchor:'left',yanchor:'top',sizing:'stretch',layer:'above'});

const layout={width:W,height:H,autosize:false,margin:{l:0,r:W-PW,t:0,b:H-PH,pad:0},paper_bgcolor:'#fff',plot_bgcolor:'rgba(0,0,0,0)',showlegend:false,hovermode:false,boxgap:0,boxgroupgap:0,bargap:0,dragmode:false,
 xaxis:{type:'linear',range:[0,END_BAR],anchor:'y3',tickmode:'array',tickvals:timeTickBars,ticktext:timeTickLabels,ticks:'outside',ticklen:4,tickcolor:GREY,tickfont:{family:FONT,size:12,color:GREY},showgrid:false,zeroline:false,showline:false,rangeslider:{visible:false},fixedrange:true},
 yaxis:{domain:[split,1],range:[0,PANE*36],visible:false,showgrid:false,zeroline:false,fixedrange:true,anchor:'x'},
 yaxis2:{overlaying:'y',type:'log',range:[4.01262,5.00585],side:'right',anchor:'x',tickmode:'array',tickvals:priceTicks,ticktext:priceTicks.map(String),ticks:'outside',ticklen:4,tickcolor:GREY,tickfont:{family:FONT,size:12,color:GREY},showgrid:false,zeroline:false,showline:false,fixedrange:true},
 yaxis3:{domain:[0,split],range:[-6.2,100],side:'right',anchor:'x',tickmode:'array',tickvals:rsiTicks,ticktext:rsiTicks.map(v=>v.toFixed(4)),ticks:'outside',ticklen:4,tickcolor:GREY,tickfont:{family:FONT,size:12,color:GREY},showgrid:false,zeroline:false,showline:false,fixedrange:true},
 shapes,annotations,
 images:[img(chev,8,29,20,20),img(chev,8,856,20,20),img(logo,8,928,33,33),img(gear,1826,980,18,18)]};
Plotly.newPlot('c',[vol,ma,rsi,candle],layout,{displayModeBar:false,staticPlot:true});
</script></body></html>
